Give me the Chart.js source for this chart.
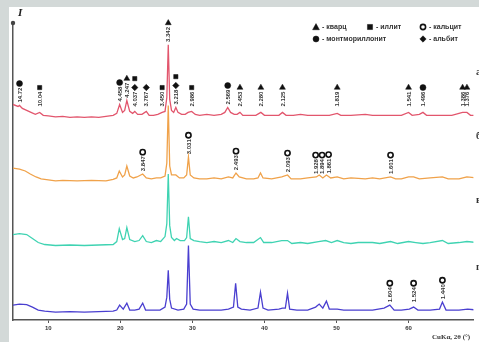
<!DOCTYPE html>
<html>
<head>
<meta charset="utf-8">
<script src="https://cdn.jsdelivr.net/npm/chart.js@4"></script>
<style>
  html, body { margin: 0; padding: 0; background: #d3d9d8; }
  canvas { display: block; }
</style>
</head>
<body>
<canvas id="xrd" width="479" height="342"></canvas>
<script>
// XRD patterns, 2theta (deg) vs intensity above each baseline
const xTicks = [10, 20, 30, 40, 50, 60];

const offsetRed = 204;
const offsetOrange = 140;
const offsetTeal = 75;
const offsetBlue = 8;

const traceRed = [
  [5.1, 13], [5.8, 11], [6.0, 12], [6.4, 9], [7, 7], [7.6, 5], [8.2, 3], [8.8, 5], [9.3, 2],
  [10, 1.5], [11, 0.5], [12, 1], [13, 0], [14, 0.5], [15, 0], [16, 0.5], [17, 0], [18, 1],
  [19, 2], [19.5, 4], [19.9, 13], [20.3, 5], [20.6, 7], [20.9, 17], [21.3, 6], [21.7, 4],
  [22.0, 6], [22.4, 3], [23.0, 3], [23.6, 6], [24.0, 2], [24.6, 2], [25.2, 3], [25.8, 5],
  [26.2, 6], [26.45, 20], [26.65, 73], [26.85, 18], [27.1, 7], [27.4, 5], [27.7, 10], [28.0, 5],
  [28.5, 3], [29.0, 3], [29.4, 5], [29.9, 6], [30.4, 3], [31, 2], [32, 3], [33, 2], [34, 3],
  [34.5, 5], [34.9, 10], [35.3, 5], [35.8, 3], [36.2, 3], [36.6, 5], [37, 2], [38, 2], [38.8, 2],
  [39.5, 5], [40, 2], [41, 2], [42, 2], [42.5, 5], [43, 2], [44, 2], [45, 3], [46, 2], [47, 2],
  [48, 2], [49, 2], [50.1, 4], [50.6, 2], [52, 2], [54, 3], [55, 2], [57, 2], [59, 2], [60, 5],
  [60.5, 2], [61.5, 3], [62, 5], [62.5, 2], [64, 2], [66, 2], [67.5, 5], [68.1, 5], [68.6, 2], [69.5, 2]
];

const traceOrange = [
  [5.1, 13], [6, 12], [6.8, 10], [7.5, 7], [8.3, 4], [9, 2], [10, 1], [11, 0], [12, 0.5], [14, 0],
  [16, 0.5], [18, 0], [19, 1.5], [19.5, 3], [19.85, 10], [20.3, 4], [20.6, 6], [20.9, 15], [21.3, 5],
  [21.8, 3], [22.3, 4], [23.1, 7], [23.6, 3], [24.3, 2], [25, 3], [25.6, 3], [26.2, 5], [26.45, 18],
  [26.65, 76], [26.85, 15], [27.1, 6], [27.7, 6], [28.2, 3], [28.8, 3], [29.2, 6], [29.45, 24],
  [29.7, 6], [30.2, 3], [31, 2], [32, 2], [33, 3], [34, 2], [35, 4], [35.6, 3], [36.05, 8], [36.5, 4],
  [37.5, 2], [38.5, 2], [39.1, 3], [39.45, 8], [39.8, 3], [41, 2], [42.4, 4], [43.2, 6], [43.7, 2],
  [45, 2], [46, 3], [47.2, 4], [47.6, 6], [48.1, 3], [48.6, 6], [49.2, 3], [50.1, 4], [51, 2], [52, 3],
  [54, 2], [55, 3], [56, 2], [57.5, 4], [58.2, 2], [59, 2], [60, 4], [60.7, 4], [61.5, 2], [63, 3],
  [64.7, 4], [65.5, 2], [67, 2], [68.1, 4], [69.5, 3]
];

const traceTeal = [
  [5.1, 11], [6, 12], [7, 11], [7.8, 7], [8.6, 3], [9.5, 1], [11, 0], [13, 0.5], [15, 0], [17, 0.5],
  [19, 1], [19.5, 4], [19.85, 17], [20.3, 6], [20.6, 7], [20.9, 18], [21.3, 6], [22, 4], [22.6, 5],
  [23.1, 10], [23.6, 4], [24.3, 3], [25, 5], [25.6, 4], [26.2, 9], [26.45, 22], [26.65, 72], [26.85, 20],
  [27.1, 8], [27.5, 5], [27.8, 7], [28.3, 5], [28.9, 5], [29.2, 8], [29.45, 29], [29.7, 7], [30.2, 5],
  [31, 4], [32, 3], [33, 4], [34, 3], [35, 5], [35.6, 3], [36.05, 7], [36.6, 4], [37.5, 3], [38.5, 3],
  [39.45, 8], [39.9, 3], [41, 3], [42.4, 5], [43.2, 5], [43.8, 2], [45, 3], [46, 2], [47.5, 4],
  [48.5, 5], [49.3, 3], [50.1, 5], [51, 3], [52, 2], [53, 3], [55, 3], [56, 2], [57.5, 4], [58.5, 2],
  [60, 4], [61, 3], [62, 2], [63, 3], [64.7, 5], [65.5, 2], [67, 3], [68.1, 4], [69.5, 3]
];

const traceBlue = [
  [5.1, 7], [6, 8], [7, 7.5], [7.8, 5], [8.6, 2], [9.5, 1], [11, 0], [13, 0.5], [15, 0], [17, 0.5],
  [19, 1], [19.5, 2], [19.9, 7], [20.4, 3], [20.9, 9], [21.3, 2], [22, 2], [22.6, 3], [23.1, 9],
  [23.5, 2], [24.5, 2], [25.5, 2], [26.2, 5], [26.45, 15], [26.65, 42], [26.85, 13], [27.1, 4],
  [28, 2], [28.8, 3], [29.2, 8], [29.45, 67], [29.7, 8], [30.1, 3], [31, 2], [32, 2], [33, 2], [34, 2],
  [35, 3], [35.7, 5], [36.0, 29], [36.3, 5], [36.8, 3], [38, 2], [39.1, 4], [39.45, 20], [39.8, 4],
  [40.5, 2], [42, 3], [42.5, 4], [42.9, 4], [43.2, 19], [43.5, 3], [44.5, 2], [46, 2], [47.1, 5],
  [47.6, 8], [48.1, 4], [48.6, 11], [49.0, 3], [50.1, 3], [51, 2], [53, 2], [55, 2], [56.6, 4],
  [57.4, 7], [58, 2], [59, 2], [60.1, 3], [60.7, 5], [61.3, 2], [63, 2], [64.3, 3], [64.7, 10],
  [65.2, 2], [67, 2], [68.2, 3], [69.5, 2]
];

// peak labels: 2theta, d-spacing, phases (bottom marker first)
const labelsRed = [
  [6.0, '14.72', ['mont']], [8.8, '10.04', ['illite']], [19.9, '4.458', ['mont']],
  [20.9, '4.247', ['quartz']], [22.0, '4.037', ['albite', 'illite']], [23.6, '3.767', ['albite']],
  [25.8, '3.450', ['illite']], [26.65, '3.342', ['quartz']], [27.7, '3.218', ['albite', 'illite']],
  [29.9, '2.986', ['illite']], [34.9, '2.569', ['mont']], [36.6, '2.453', ['quartz']],
  [39.5, '2.280', ['quartz']], [42.5, '2.125', ['quartz']], [50.1, '1.819', ['quartz']],
  [60.0, '1.541', ['quartz']], [62.0, '1.496', ['mont']], [67.5, '1.386', ['quartz']],
  [68.1, '1.376', ['quartz']]
];
const labelsOrange = [
  [23.1, '3.847', ['calcite']], [29.45, '3.031', ['calcite']], [36.05, '2.493', ['calcite']],
  [43.2, '2.093', ['calcite']], [47.1, '1.928', ['calcite']], [48.0, '1.894', ['calcite']],
  [48.9, '1.861', ['calcite']], [57.5, '1.601', ['calcite']]
];
const labelsBlue = [
  [57.4, '1.604', ['calcite']], [60.7, '1.524', ['calcite']], [64.7, '1.440', ['calcite']]
];

const phaseNames = [
  ['quartz', '- кварц'], ['illite', '- иллит'], ['calcite', '- кальцит'],
  ['mont', '- монтмориллонит'], ['albite', '- альбит']
];
const sampleNames = ['а', 'б', 'в', 'г'];

const phaseStyle = {
  quartz: { pointStyle: 'triangle', radius: 3.4, fill: '#111' },
  illite: { pointStyle: 'rect', radius: 3, fill: '#111' },
  calcite: { pointStyle: 'circle', radius: 2.6, fill: '#fff', border: 1.6 },
  mont: { pointStyle: 'circle', radius: 3, fill: '#111' },
  albite: { pointStyle: 'rectRot', radius: 3.2, fill: '#111' }
};

const textGap = 22;   // room for the vertical d-value under a marker
const stackGap = 9;

function valueAt(trace, x) {
  for (let i = 1; i < trace.length; i++) {
    if (trace[i][0] >= x) {
      const a = trace[i - 1], b = trace[i];
      return a[1] + (b[1] - a[1]) * (x - a[0]) / (b[0] - a[0]);
    }
  }
  return trace[trace.length - 1][1];
}

const markers = [];   // {x, y, phase}
const texts = [];     // {x, y, text}
function addLabels(labels, trace, offset, level) {
  labels.forEach(([x, d, phases]) => {
    const y0 = offset + Math.max(level, valueAt(trace, x) + textGap);
    texts.push({ x: x, y: y0, text: d });
    phases.forEach((p, k) => markers.push({ x: x, y: y0 + k * stackGap, phase: p }));
  });
}
addLabels(labelsRed, traceRed, offsetRed, 30);
addLabels(labelsOrange, traceOrange, offsetOrange, 26);
addLabels(labelsBlue, traceBlue, offsetBlue, 29);

function lineSet(trace, offset, color) {
  return {
    type: 'line',
    data: trace.map(p => ({ x: p[0], y: p[1] + offset })),
    borderColor: color,
    borderWidth: 1.3,
    pointRadius: 0,
    tension: 0,
    order: 2
  };
}

const markerSets = Object.keys(phaseStyle).map(p => ({
  type: 'scatter',
  data: markers.filter(m => m.phase === p).map(m => ({ x: m.x, y: m.y })),
  pointStyle: phaseStyle[p].pointStyle,
  pointRadius: phaseStyle[p].radius,
  backgroundColor: phaseStyle[p].fill,
  borderColor: '#111',
  borderWidth: phaseStyle[p].border || 0.5,
  clip: false,
  order: 1
}));

function drawSymbol(ctx, p, x, y) {
  const s = phaseStyle[p];
  ctx.save();
  ctx.fillStyle = s.fill;
  ctx.strokeStyle = '#111';
  ctx.lineWidth = s.border || 0.5;
  ctx.beginPath();
  const r = s.radius;
  if (s.pointStyle === 'triangle') {
    ctx.moveTo(x, y - r); ctx.lineTo(x + r, y + r * 0.8); ctx.lineTo(x - r, y + r * 0.8); ctx.closePath();
  } else if (s.pointStyle === 'rect') {
    ctx.rect(x - r * 0.85, y - r * 0.85, r * 1.7, r * 1.7);
  } else if (s.pointStyle === 'rectRot') {
    ctx.moveTo(x, y - r); ctx.lineTo(x + r, y); ctx.lineTo(x, y + r); ctx.lineTo(x - r, y); ctx.closePath();
  } else {
    ctx.arc(x, y, r, 0, Math.PI * 2);
  }
  ctx.fill();
  ctx.stroke();
  ctx.restore();
}

const frame = {
  id: 'frame',
  beforeDraw(chart) {
    const ctx = chart.ctx;
    ctx.save();
    ctx.fillStyle = '#d3d9d8';
    ctx.fillRect(0, 0, chart.width, chart.height);
    ctx.fillStyle = '#ffffff';
    ctx.fillRect(9, 7, chart.width, chart.height);
    ctx.restore();
  },
  afterDraw(chart) {
    const ctx = chart.ctx;
    const xs = chart.scales.x, ys = chart.scales.y;
    ctx.save();
    // d-values under the markers
    ctx.fillStyle = '#333';
    ctx.font = 'bold 6px "Liberation Sans", Arial, sans-serif';
    ctx.textBaseline = 'middle';
    ctx.textAlign = 'right';
    texts.forEach(t => {
      const px = xs.getPixelForValue(t.x);
      const py = ys.getPixelForValue(t.y) + 4;
      ctx.save();
      ctx.translate(px, py);
      ctx.rotate(-Math.PI / 2);
      ctx.fillText(t.text, 0, 0.5);
      ctx.restore();
    });
    // axis head and label
    const top = chart.chartArea.top;
    const left = chart.chartArea.left;
    ctx.fillStyle = '#444';
    ctx.beginPath();
    ctx.arc(left, top + 1, 2.2, 0, Math.PI * 2);
    ctx.fill();
    ctx.fillStyle = '#222';
    ctx.font = 'italic bold 11px "Liberation Serif", serif';
    ctx.textAlign = 'left';
    ctx.fillText('I', 18, 13);
    // legend
    ctx.font = 'bold 7px "Liberation Sans", Arial, sans-serif';
    ctx.fillStyle = '#333';
    const legendPos = [[316, 27], [370, 27], [423, 27], [316, 39], [423, 39]];
    phaseNames.forEach(([p, name], i) => {
      const [lx, ly] = legendPos[i];
      drawSymbol(ctx, p, lx, ly);
      ctx.fillStyle = '#333';
      ctx.fillText(name, lx + 6, ly + 0.5);
    });
    // sample letters, cut by the right edge
    ctx.font = 'bold 10px "Liberation Serif", serif';
    [offsetRed, offsetOrange, offsetTeal, offsetBlue].forEach((o, i) => {
      ctx.fillText(sampleNames[i] + ')', 476, ys.getPixelForValue(o + 45));
    });
    // x axis title
    ctx.font = 'bold 7px "Liberation Serif", serif';
    ctx.fillText('CuKα, 2θ (°)', 432, 337);
    ctx.restore();
  }
};

new Chart(document.getElementById('xrd'), {
  data: {
    datasets: [
      lineSet(traceRed, offsetRed, '#e2566d'),
      lineSet(traceOrange, offsetOrange, '#f0a24a'),
      lineSet(traceTeal, offsetTeal, '#3fd3b2'),
      lineSet(traceBlue, offsetBlue, '#4a3fd0'),
      ...markerSets
    ]
  },
  options: {
    responsive: false,
    animation: false,
    devicePixelRatio: 1,
    layout: { padding: { left: 13, top: 22, right: 0, bottom: 0 } },
    plugins: { legend: { display: false }, tooltip: { enabled: false } },
    scales: {
      x: {
        type: 'linear',
        min: 5.1,
        max: 69.0,
        afterBuildTicks: s => { s.ticks = xTicks.map(v => ({ value: v })); },
        afterFit: s => { s.height = 22; },
        grid: { drawOnChartArea: false, drawTicks: true, tickLength: 3, color: '#555' },
        border: { display: true, color: '#555', width: 1.5 },
        ticks: {
          color: '#333',
          padding: 2,
          maxRotation: 0,
          font: { size: 6, weight: 'bold', family: '"Liberation Sans", Arial, sans-serif' }
        }
      },
      y: {
        type: 'linear',
        min: 0,
        max: 300,
        afterFit: s => { s.width = 0; },
        grid: { display: false },
        border: { display: true, color: '#555', width: 1.5 },
        ticks: { display: false }
      }
    }
  },
  plugins: [frame]
});
</script>
</body>
</html>
